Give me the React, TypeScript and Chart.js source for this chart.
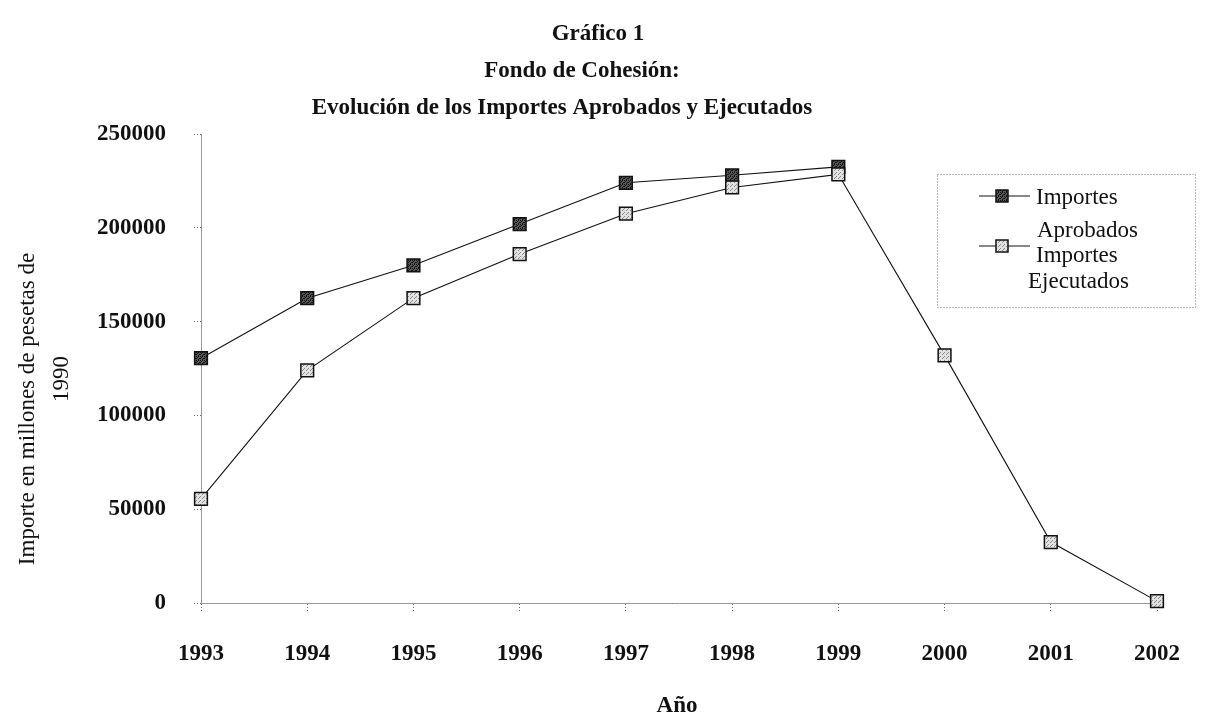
import React, { useEffect, useRef } from "react";
import { Chart, registerables } from "chart.js";

Chart.register(...registerables);

const years = ["1993", "1994", "1995", "1996", "1997", "1998", "1999", "2000", "2001", "2002"];
const aprobados = [130500, 162500, 180000, 202000, 224000, 228000, 232500, null, null, null];
const ejecutados = [55500, 124000, 162500, 186000, 207500, 221500, 228500, 132000, 32500, 1000];
const yTicks = [0, 50000, 100000, 150000, 200000, 250000];
const titleLines = ["Gráfico 1", "Fondo de Cohesión:", "Evolución de los Importes Aprobados y Ejecutados"];
const legendAprobados = ["Importes", "Aprobados"];
const legendEjecutados = ["Importes", "Ejecutados"];
const yTitleLines = ["Importe en millones de pesetas de", "1990"];
const xTitle = "Año";

const SERIF = '"Liberation Serif", "DejaVu Serif", serif';

function makePattern(dark: boolean): CanvasPattern | string {
  const c = document.createElement("canvas");
  c.width = 4;
  c.height = 4;
  const g = c.getContext("2d");
  if (!g) return dark ? "#555" : "#ccc";
  g.fillStyle = dark ? "#5a5a5a" : "#e2e2e2";
  g.fillRect(0, 0, 4, 4);
  g.fillStyle = dark ? "#111" : "#8a8a8a";
  const pts = dark
    ? [[0, 0], [2, 0], [1, 1], [3, 2], [0, 2], [2, 3]]
    : [[0, 0], [2, 2], [3, 1]];
  pts.forEach(([x, y]) => g.fillRect(x, y, 1, 1));
  const p = g.createPattern(c, "repeat");
  return p || (dark ? "#555" : "#ccc");
}

export default function App() {
  const ref = useRef<HTMLCanvasElement | null>(null);

  useEffect(() => {
    document.body.style.margin = "0";
    const canvas = ref.current;
    if (!canvas) return;
    const darkFill = makePattern(true);
    const lightFill = makePattern(false);

    const drawMarker = (ctx: CanvasRenderingContext2D, x: number, y: number, fill: any) => {
      ctx.save();
      ctx.fillStyle = fill;
      ctx.strokeStyle = "#111";
      ctx.lineWidth = 1.5;
      ctx.fillRect(x - 6, y - 6, 12, 12);
      ctx.strokeRect(x - 6, y - 6, 12, 12);
      ctx.restore();
    };

    const decor = {
      id: "decor",
      afterDraw(chart: any) {
        const ctx: CanvasRenderingContext2D = chart.ctx;
        ctx.save();
        ctx.fillStyle = "#111";
        ctx.textAlign = "center";
        ctx.textBaseline = "middle";
        ctx.font = `bold 23px ${SERIF}`;
        const tx = [598, 582, 562];
        const ty = [34, 71, 108];
        titleLines.forEach((t, i) => ctx.fillText(t, tx[i], ty[i]));
        ctx.fillText(xTitle, 677, 706);

        // y axis title
        ctx.font = `23px ${SERIF}`;
        ctx.save();
        ctx.translate(28, 409);
        ctx.rotate(-Math.PI / 2);
        ctx.fillText(yTitleLines[0], 0, 0);
        ctx.restore();
        ctx.save();
        ctx.translate(62, 379);
        ctx.rotate(-Math.PI / 2);
        ctx.fillText(yTitleLines[1], 0, 0);
        ctx.restore();

        // legend box
        ctx.save();
        ctx.strokeStyle = "#777";
        ctx.lineWidth = 1;
        ctx.setLineDash([1, 2]);
        ctx.strokeRect(937.5, 174.5, 258, 133);
        ctx.restore();

        ctx.strokeStyle = "#111";
        ctx.lineWidth = 1.2;
        ctx.beginPath();
        ctx.moveTo(979, 196);
        ctx.lineTo(1030, 196);
        ctx.moveTo(979, 246);
        ctx.lineTo(1030, 246);
        ctx.stroke();
        drawMarker(ctx, 1002, 196, darkFill);
        drawMarker(ctx, 1002, 246, lightFill);

        ctx.fillStyle = "#111";
        ctx.textAlign = "left";
        ctx.font = `23px ${SERIF}`;
        ctx.fillText(legendAprobados[0], 1036, 198);
        ctx.fillText(legendAprobados[1], 1037, 231);
        ctx.fillText(legendEjecutados[0], 1036, 256);
        ctx.fillText(legendEjecutados[1], 1028, 282);
        ctx.restore();
      },
    };

    const chart = new Chart(canvas, {
      type: "line",
      data: {
        labels: years,
        datasets: [
          {
            label: "Importes Aprobados",
            data: aprobados,
            order: 2,
            clip: false as any,
            borderColor: "#111",
            borderWidth: 1.1,
            pointStyle: "rect",
            pointRadius: 9,
            pointBackgroundColor: darkFill as any,
            pointBorderColor: "#111",
            pointBorderWidth: 1.5,
            spanGaps: false,
            tension: 0,
          },
          {
            label: "Importes Ejecutados",
            data: ejecutados,
            order: 1,
            clip: false as any,
            borderColor: "#111",
            borderWidth: 1.1,
            pointStyle: "rect",
            pointRadius: 9,
            pointBackgroundColor: lightFill as any,
            pointBorderColor: "#111",
            pointBorderWidth: 1.5,
            tension: 0,
          },
        ],
      },
      options: {
        animation: false,
        responsive: false,
        maintainAspectRatio: false,
        layout: { padding: { top: 134, right: 46, bottom: 0, left: 0 } },
        plugins: {
          legend: { display: false },
          title: { display: false },
          tooltip: { enabled: false },
        },
        scales: {
          x: {
            type: "category",
            offset: false,
            grid: {
              display: true,
              drawOnChartArea: false,
              drawTicks: true,
              tickLength: 8,
              tickColor: "#666",
              tickBorderDash: [1, 2],
            },
            border: { display: true, color: "#999", dash: [1, 2], width: 1 },
            ticks: {
              color: "#111",
              padding: 29,
              maxRotation: 0,
              autoSkip: false,
              font: { family: SERIF, size: 23, weight: "bold" },
            },
            afterFit: (scale: any) => {
              scale.height = 120;
            },
          },
          y: {
            min: 0,
            max: 250000,
            grid: {
              display: true,
              drawOnChartArea: false,
              drawTicks: true,
              tickLength: 7,
              tickColor: "#666",
              tickBorderDash: [1, 2],
            },
            border: { display: true, color: "#999", dash: [1, 2], width: 1 },
            afterBuildTicks: (scale: any) => {
              scale.ticks = yTicks.map((v) => ({ value: v }));
            },
            ticks: {
              color: "#111",
              padding: 28,
              callback: (v: any) => String(v),
              font: { family: SERIF, size: 23, weight: "bold" },
            },
            afterFit: (scale: any) => {
              scale.width = 201;
            },
          },
        },
      },
      plugins: [decor],
    });

    return () => chart.destroy();
  }, []);

  return (
    <div style={{ width: 1209, height: 723 }}>
      <canvas ref={ref} width={1209} height={723} style={{ display: "block" }} />
    </div>
  );
}
